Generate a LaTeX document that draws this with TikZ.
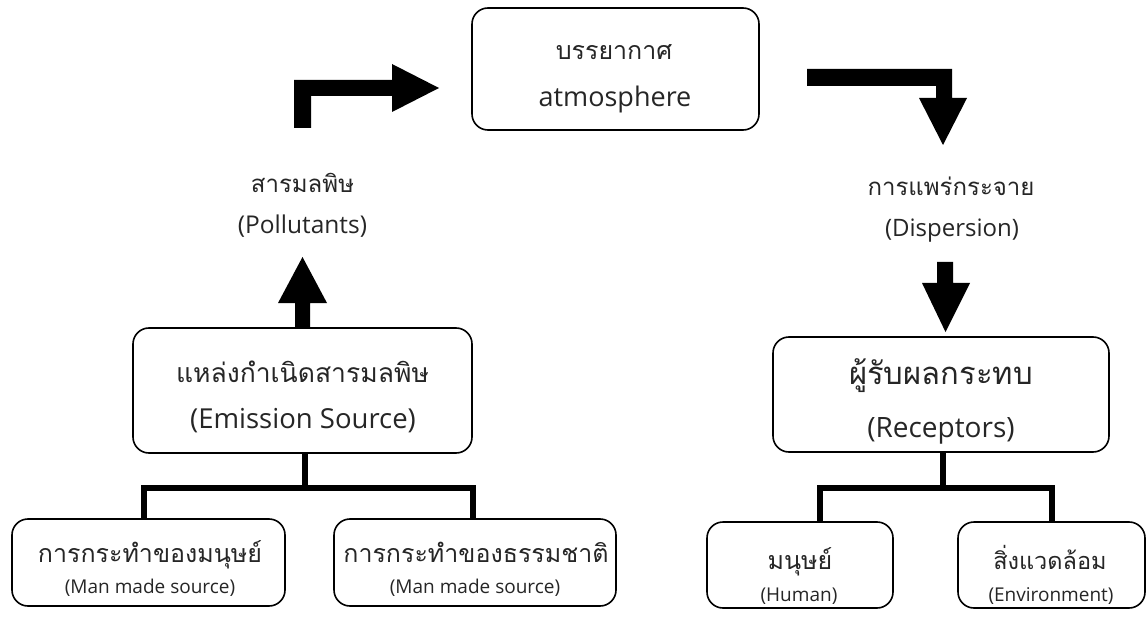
\documentclass[tikz,border=0pt]{standalone}
\usepackage{fontspec}
\setmainfont{Open Sans}
\newfontfamily\thaifont[Script=Thai]{Loma}
\usetikzlibrary{calc}
\begin{document}
\begin{tikzpicture}[x=1pt,y=-1pt,
  box/.style={draw, line width=1.6pt, rounded corners=16pt, inner sep=0pt},
  txt/.style={anchor=base, inner sep=0pt, text=black!85},
  tree/.style={line width=6pt},
  blk/.style={fill=black}]
\useasboundingbox (0,0) rectangle (1148,628);
\fill[white] (0,0) rectangle (1148,628);

% boxes
\node[box, minimum width=287pt, minimum height=122pt] (atm) at (615.5,69) {};
\node[txt, font=\thaifont\fontsize{25}{30}\selectfont] (atm1) at (614,60) {บรรยากาศ};
\node[txt, font=\fontsize{27}{30}\selectfont] (atm2) at (615,107) {atmosphere};

\node[box, minimum width=339pt, minimum height=125pt] (emis) at (302.5,390.5) {};
\node[txt, font=\thaifont\fontsize{26.5}{30}\selectfont] (emis1) at (302.5,382) {แหล่งกำเนิดสารมลพิษ};
\node[txt, font=\fontsize{27.5}{30}\selectfont] (emis2) at (303,428) {(Emission Source)};

\node[box, minimum width=336pt, minimum height=115pt] (rec) at (941,394.5) {};
\node[txt, font=\thaifont\fontsize{31}{34}\selectfont] (rec1) at (941,384) {ผู้รับผลกระทบ};
\node[txt, font=\fontsize{28}{32}\selectfont] (rec2) at (941,437) {(Receptors)};

\node[box, minimum width=273pt, minimum height=87pt] (man) at (148.5,562.5) {};
\node[txt, font=\thaifont\fontsize{25}{28}\selectfont] (man1) at (150,562) {การกระทำของมนุษย์};
\node[txt, font=\fontsize{19}{22}\selectfont] (man2) at (150,593) {(Man made source)};

\node[box, minimum width=282pt, minimum height=87pt] (nat) at (475,562.5) {};
\node[txt, font=\thaifont\fontsize{25}{28}\selectfont] (nat1) at (476,562) {การกระทำของธรรมชาติ};
\node[txt, font=\fontsize{19}{22}\selectfont] (nat2) at (475,593) {(Man made source)};

\node[box, minimum width=186pt, minimum height=86pt] (hum) at (800,565) {};
\node[txt, font=\thaifont\fontsize{25}{30}\selectfont] (hum1) at (800,569) {มนุษย์};
\node[txt, font=\fontsize{19}{22}\selectfont] (hum2) at (799,601) {(Human)};

\node[box, minimum width=187pt, minimum height=86pt] (env) at (1051.5,565) {};
\node[txt, font=\thaifont\fontsize{23.5}{30}\selectfont] (env1) at (1050,569) {สิ่งแวดล้อม};
\node[txt, font=\fontsize{19}{22}\selectfont] (env2) at (1051,601) {(Environment)};

% labels
\node[txt, font=\thaifont\fontsize{24}{28}\selectfont] (pol1) at (302.5,193) {สารมลพิษ};
\node[txt, font=\fontsize{24.5}{28}\selectfont] (pol2) at (302.5,234) {(Pollutants)};
\node[txt, font=\thaifont\fontsize{24}{28}\selectfont] (disp1) at (951,196) {การแพร่กระจาย};
\node[txt, font=\fontsize{24}{28}\selectfont] (disp2) at (952,237) {(Dispersion)};

% tree connectors
\coordinate (s1) at ($(emis.south)+(2,0)$);
\coordinate (j1) at ($(emis.south)+(2,34)$);
\coordinate (a1) at ($(man.north)+(-5,0)$);
\coordinate (b1) at ($(nat.north)+(-2,0)$);
\draw[tree] (s1) -- (j1);
\draw[tree] (a1) -- (a1 |- j1) -- (b1 |- j1) -- (b1);
\coordinate (s2) at ($(rec.south)+(2,0)$);
\coordinate (j2) at ($(rec.south)+(2,35)$);
\coordinate (a2) at ($(hum.north)+(20,0)$);
\coordinate (b2) at ($(env.north)+(0.5,0)$);
\draw[tree] (s2) -- (j2);
\draw[tree] (a2) -- (a2 |- j2) -- (b2 |- j2) -- (b2);

% block arrows
\fill[blk] (295,328) -- (295,303) -- (278,303) -- (302.5,257) -- (327,303) -- (310,303) -- (310,328) -- cycle;
\fill[blk] (294,128) -- (294,80) -- (392,80) -- (392,64) -- (439,88) -- (392,112) -- (392,96) -- (311,96) -- (311,128) -- cycle;
\fill[blk] (807,69) -- (952,69) -- (952,98) -- (967,98) -- (943,145) -- (919,98) -- (936,98) -- (936,86) -- (807,86) -- cycle;
\fill[blk] (937,262) -- (953,262) -- (953,283) -- (970,283) -- (945.5,332) -- (922,283) -- (937,283) -- cycle;
\end{tikzpicture}
\end{document}
